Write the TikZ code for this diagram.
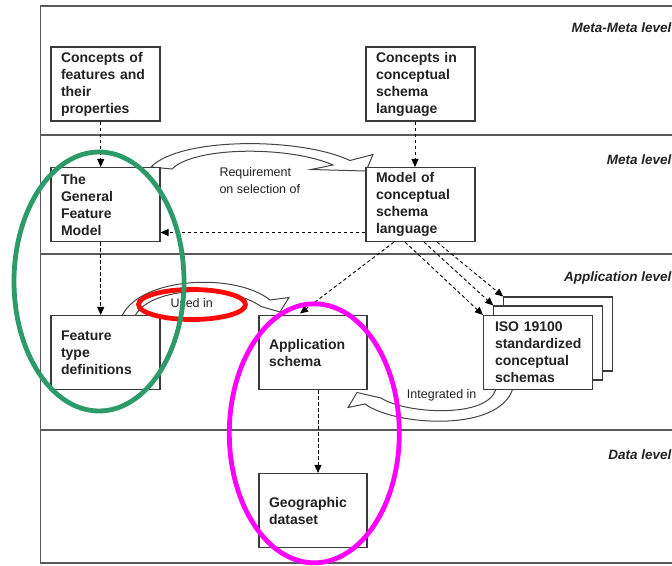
\documentclass[tikz,border=0pt]{standalone}
\usepackage{fontspec}
\setmainfont{Liberation Sans}
\usetikzlibrary{arrows.meta}
\definecolor{boxline}{HTML}{3A3A3A}
\definecolor{frameline}{HTML}{5A5A5A}
\definecolor{blockline}{HTML}{444444}
\definecolor{txt}{HTML}{222222}
\definecolor{ovalgreen}{RGB}{45,155,105}
\definecolor{ovalred}{RGB}{250,10,10}
\definecolor{ovalmagenta}{RGB}{255,0,255}
\begin{document}
\begin{tikzpicture}[x=1pt,y=-1pt,
 box/.style={draw=boxline, line width=1.1pt, fill=white, minimum width=109pt, minimum height=74pt,
   text width=89pt, inner xsep=10pt, inner ysep=0pt, align=left, text=txt,
   font=\bfseries\fontsize{14}{17}\selectfont},
 backbox/.style={draw=boxline, line width=1.1pt, fill=white, minimum width=109pt, minimum height=74pt, inner sep=0pt},
 dep/.style={draw=black, line width=0.9pt, dash pattern=on 3.5pt off 2.5pt, -{Triangle[length=8pt,width=7pt]}},
 level/.style={anchor=east, inner sep=0pt, font=\bfseries\itshape\fontsize{13.5}{16}\selectfont, text=txt},
 note/.style={inner sep=0pt, text=txt, font=\fontsize{12.5}{16.7}\selectfont},
 blockarrow/.style={draw=blockline, line width=1pt, fill=white, line join=miter},
 oval/.style={line width=4.8pt}
]
\fill[white] (0,0) rectangle (672,565);
\clip (0,0) rectangle (672,565);
% frame and level separators
\draw[frameline, line width=1.2pt] (690,6) -- (40.7,6) -- (40.7,563) -- (690,563);
\draw[frameline, line width=1.2pt] (40.7,135) -- (690,135);
\draw[frameline, line width=1.2pt] (40.7,254) -- (690,254);
\draw[frameline, line width=1.2pt] (40.7,430) -- (690,430);
% level labels
\node[level] (lmm) at (671.5,28) {Meta-Meta level};
\node[level] (lm) at (671.5,160) {Meta level};
\node[level] (la) at (671.5,278) {Application level};
\node[level] (ld) at (671.5,455) {Data level};
% block arrows
\path[blockarrow] (151,167) .. controls (180,137) and (300,137) .. (350,160.5) -- (373,154.5) -- (366,171)
  -- (311,169.5) -- (333,165) .. controls (290,146) and (195,146) .. (172,169) -- cycle;
\path[blockarrow] (122,316) .. controls (140,277) and (235,272) .. (270,300) -- (289,297.5) -- (280,312)
  -- (261,306.5) .. controls (230,284) and (150,286) .. (135,316) -- cycle;
\path[blockarrow] (513,388) .. controls (500,433) and (395,426) .. (365,404) -- (348,407.5) -- (357,392.5)
  -- (381,398) .. controls (405,414) and (490,419) .. (496,388) -- cycle;
% boxes
\node[box] (cf) at (105.5,84) {Concepts of\\features and\\their\\properties};
\node[box] (cc) at (420.5,84) {Concepts in\\conceptual\\schema\\language};
\node[box] (gfm) at (105.5,204.5) {The\\General\\Feature\\Model};
\node[box] (mcs) at (420.5,204.5) {Model of\\conceptual\\schema\\language};
\node[box] (ftd) at (105.5,352.5) {Feature\\type\\definitions};
\node[box, minimum width=108pt, text width=88pt] (app) at (313,352.5) {Application\\schema};
\node[backbox] (iso3) at (558.2,334) {};
\node[backbox] (iso2) at (548.3,343) {};
\node[box, text width=86pt, inner xsep=11.5pt] (iso) at (538,352.5) {ISO 19100\\standardized\\conceptual\\schemas};
\node[box, minimum width=108pt, text width=88pt] (geo) at (313,510.5) {Geographic\\dataset};
% notes
\node[note, anchor=west, align=left] (req) at (219.3,180.6) {Requirement\\on selection of};
\node[note] (used) at (191.7,302.7) {Used in};
\node[note] (integ) at (441.7,395) {Integrated in};
% dependency arrows
\draw[dep] ([xshift=-4.8pt]cf.south) -- ([xshift=-4.8pt]gfm.north);
\draw[dep] ([xshift=-5.5pt]cc.south) -- ([xshift=-5.5pt]mcs.north);
\draw[dep] ([yshift=-28pt]mcs.west) -- ([yshift=-28pt]gfm.east);
\draw[dep] ([xshift=-4.8pt]gfm.south) -- ([xshift=-4.8pt]ftd.north);
\draw[dep] ([xshift=-26.5pt]mcs.south) -- ([xshift=-13pt,yshift=1.5pt]app.north);
\draw[dep] ([xshift=-15.5pt]mcs.south) -- (iso.north west);
\draw[dep] ([xshift=3.5pt]mcs.south) -- (iso2.north west);
\draw[dep] ([xshift=16.5pt]mcs.south) -- (iso3.north west);
\draw[dep] ([xshift=5pt]app.south) -- ([xshift=5pt]geo.north);
% highlight ovals
\draw[oval, ovalred] (192,304.5) ellipse [x radius=53.5pt, y radius=15pt];
\draw[oval, ovalgreen] (99,281.5) ellipse [x radius=85pt, y radius=129.5pt];
\draw[oval, ovalmagenta] (314.3,433.3) ellipse [x radius=85pt, y radius=129.5pt];
\end{tikzpicture}
\end{document}
